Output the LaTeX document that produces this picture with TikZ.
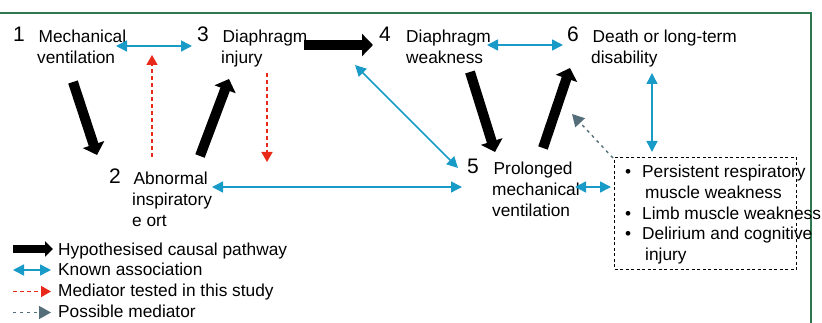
\documentclass[tikz,border=0pt]{standalone}
\usepackage{fontspec}
\setmainfont{Liberation Sans}
\usetikzlibrary{arrows.meta, positioning}
\definecolor{assocblue}{RGB}{25,155,200}
\definecolor{medred}{RGB}{232,40,25}
\definecolor{possgray}{RGB}{84,110,122}
\definecolor{framegreen}{RGB}{46,120,80}
\tikzset{
  num/.style={inner sep=0, anchor=north west, font=\fontsize{21}{21}\selectfont},
  lbl/.style={inner sep=0, anchor=north west, align=left, font=\fontsize{17.3}{20.7}\selectfont},
  legendtext/.style={inner sep=0, anchor=base west, font=\fontsize{17.3}{20.7}\selectfont},
  cause/.style={line width=10pt, -{Triangle[length=11pt,width=22pt]}},
  assoc/.style={assocblue, line width=1.5pt, {Triangle[length=11pt,width=11pt]}-{Triangle[length=11pt,width=11pt]}},
  mediator/.style={medred, line width=1.4pt, dash pattern=on 4pt off 3pt, -{Triangle[length=10pt,width=11pt]}},
  possible/.style={possgray, line width=1.4pt, dash pattern=on 3pt off 4pt, -{Triangle[length=12pt,width=13pt]}},
}
\begin{document}
\begin{tikzpicture}[x=1pt, y=-1pt]
    \useasboundingbox (0,0) rectangle (822,323);
    % Frame lines
    \draw[framegreen, line width=1.2pt] (0,13) -- (811,13) -- (811,323);
    % Define the numbered stages
    \node[num] (n1) at (13,27) {1};
    \node[lbl] (mv) at (37,30) {\hspace*{1.5pt}Mechanical\\ventilation};
    \node[num] (n3) at (197,27) {3};
    \node[lbl] (di) at (221,30) {\hspace*{1.5pt}Diaphragm\\injury};
    \node[num] (n4) at (379,27) {4};
    \node[lbl] (dw) at (406,30) {Diaphragm\\weakness};
    \node[num] (n6) at (567,27) {6};
    \node[lbl] (dd) at (591,30) {\hspace*{1.5pt}Death or long-term\\disability};
    \node[num] (n2) at (109,169) {2};
    \node[lbl] (ai) at (132,172) {\hspace*{1.5pt}Abnormal\\inspiratory\\e ort};
    \node[num] (n5) at (467,159) {5};
    \node[lbl] (pv) at (492,162) {\hspace*{1.5pt}Prolonged\\mechanical\\ventilation};
    % Long-term outcomes box
    \node[draw, dash pattern=on 3pt off 2.5pt, line width=1pt, inner sep=0, minimum width=182pt, minimum height=112pt, anchor=north west] (outbox) at (614,157) {};
    \node[lbl] (outlist) at (625,165) {\makebox[17pt][l]{•}Persistent respiratory\\\hspace*{20pt}muscle weakness\\\makebox[17pt][l]{•}Limb muscle weakness\\\makebox[17pt][l]{•}Delirium and cognitive\\\hspace*{20pt}injury};
    % Hypothesised causal pathway
    \draw[cause] ([shift={(36,52)}]mv.north west) -- ([shift={(-12,-14)}]n2.north west);
    \draw[cause] ([shift={(68,-16)}]ai.north west) -- ([shift={(8,49)}]di.north west);
    \draw[cause] ([shift={(83,15)}]di.north west) -- ([shift={(-6,18)}]n4.north west);
    \draw[cause] ([shift={(64,42)}]dw.north west) -- ([shift={(3,-10)}]pv.north west);
    \draw[cause] ([shift={(51,-14)}]pv.north west) -- ([shift={(3,41)}]n6.north west);
    % Known associations
    \draw[assoc] ([shift={(79,16)}]mv.north west) -- ([shift={(-5,19)}]n3.north west);
    \draw[assoc] ([shift={(81,15)}]dw.north west) -- ([shift={(-4,18)}]n6.north west);
    \draw[assoc] ([shift={(80,15)}]ai.north west) -- ([shift={(-5,28)}]n5.north west);
    \draw[assoc] ([shift={(134,35)}]di.north west) -- ([shift={(-9,9)}]n5.north west);
    \draw[assoc] ([shift={(83,25)}]pv.north west) -- ([shift={(-3,30)}]outbox.north west);
    \draw[assoc] ([shift={(61,43)}]dd.north west) -- ([shift={(38,-5)}]outbox.north west);
    % Mediators
    \draw[mediator] ([shift={(20,-15)}]ai.north west) -- ([shift={(115,25)}]mv.north west);
    \draw[mediator] ([shift={(46,43)}]di.north west) -- ([shift={(135,-10)}]ai.north west);
    \draw[possible] ([shift={(-1,1)}]outbox.north west) -- ([shift={(80,-48)}]pv.north west);
    % Legend
    \node[legendtext] (lg1) at (58,255) {Hypothesised causal pathway};
    \node[legendtext] (lg2) at (58,276) {Known association};
    \node[legendtext] (lg3) at (58,296) {Mediator tested in this study};
    \node[legendtext] (lg4) at (58,317) {Possible mediator};
    \draw[cause, line width=8pt, -{Triangle[length=8pt,width=15pt]}] ([shift={(-45,-6)}]lg1.base west) -- ([shift={(-5,-6)}]lg1.base west);
    \draw[assoc] ([shift={(-45,-6)}]lg2.base west) -- ([shift={(-7,-6)}]lg2.base west);
    \draw[mediator] ([shift={(-45,-4.5)}]lg3.base west) -- ([shift={(-7,-4.5)}]lg3.base west);
    \draw[possible] ([shift={(-45,-4.5)}]lg4.base west) -- ([shift={(-7,-4.5)}]lg4.base west);
\end{tikzpicture}
\end{document}
